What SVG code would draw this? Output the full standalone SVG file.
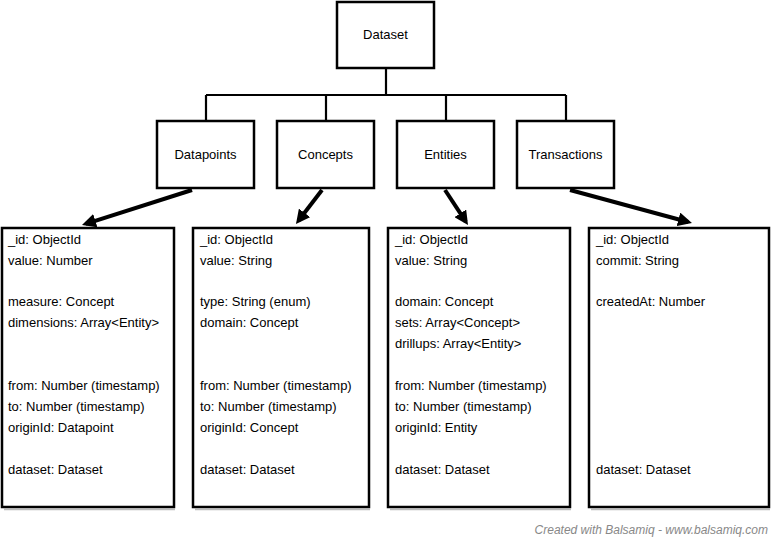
<svg xmlns="http://www.w3.org/2000/svg" width="773" height="540" viewBox="0 0 773 540">
<style>
.box{fill:#fff;stroke:#000;stroke-width:2.5;}
.shadow{fill:none;stroke:#bbb;stroke-width:1.5;}
.lbl{font-family:"Liberation Sans",Arial,sans-serif;font-size:13px;fill:#000;}
.ctr{text-anchor:middle;}
.tree{fill:none;stroke:#000;stroke-width:2.2;}
.arrow{fill:none;stroke:#000;stroke-width:4;marker-end:url(#ah);}
.foot{font-family:"Liberation Sans",Arial,sans-serif;font-size:12px;font-style:italic;fill:#888;text-anchor:end;}
</style>
<defs>
<marker id="ah" markerUnits="userSpaceOnUse" markerWidth="14" markerHeight="14" refX="10" refY="7" orient="auto">
<path d="M0,0 L14,7 L0,14 z" fill="#000"/>
</marker>
</defs>
<g id="connectors">
<path class="tree" d="M386,68 V95 M206,95 H566 M206,95 V121 M326,95 V121 M446,95 V121 M566,95 V121"/>
<line class="arrow" x1="192" y1="190" x2="85.8" y2="223.8"/>
<line class="arrow" x1="322" y1="190" x2="298.4" y2="220.8"/>
<line class="arrow" x1="445" y1="190" x2="465.8" y2="221.7"/>
<line class="arrow" x1="570" y1="190" x2="688.1" y2="222"/>
</g>
<g id="dataset">
<rect class="box" x="337" y="2" width="97" height="66"/>
<text class="lbl ctr" x="385.5" y="39">Dataset</text>
</g>
<g id="datapoints">
<rect class="box" x="157" y="121" width="97" height="67"/>
<text class="lbl ctr" x="205.5" y="159">Datapoints</text>
</g>
<g id="concepts">
<rect class="box" x="277" y="121" width="97" height="67"/>
<text class="lbl ctr" x="325.5" y="159">Concepts</text>
</g>
<g id="entities">
<rect class="box" x="397" y="121" width="97" height="67"/>
<text class="lbl ctr" x="445.5" y="159">Entities</text>
</g>
<g id="transactions">
<rect class="box" x="517" y="121" width="97" height="67"/>
<text class="lbl ctr" x="565.5" y="159">Transactions</text>
</g>
<g id="datapoint-schema">
<line class="shadow" x1="4" y1="509.5" x2="175" y2="509.5"/>
<rect class="box" x="2" y="228" width="172" height="279"/>
<text class="lbl" x="8" y="244">_id: ObjectId</text>
<text class="lbl" x="8" y="265">value: Number</text>
<text class="lbl" x="8" y="306">measure: Concept</text>
<text class="lbl" x="8" y="327">dimensions: Array&lt;Entity&gt;</text>
<text class="lbl" x="8" y="390">from: Number (timestamp)</text>
<text class="lbl" x="8" y="411">to: Number (timestamp)</text>
<text class="lbl" x="8" y="432">originId: Datapoint</text>
<text class="lbl" x="8" y="474">dataset: Dataset</text>
</g>
<g id="concept-schema">
<line class="shadow" x1="195" y1="509.5" x2="370" y2="509.5"/>
<rect class="box" x="193" y="228" width="176" height="279"/>
<text class="lbl" x="200" y="244">_id: ObjectId</text>
<text class="lbl" x="200" y="265">value: String</text>
<text class="lbl" x="200" y="306">type: String (enum)</text>
<text class="lbl" x="200" y="327">domain: Concept</text>
<text class="lbl" x="200" y="390">from: Number (timestamp)</text>
<text class="lbl" x="200" y="411">to: Number (timestamp)</text>
<text class="lbl" x="200" y="432">originId: Concept</text>
<text class="lbl" x="200" y="474">dataset: Dataset</text>
</g>
<g id="entity-schema">
<line class="shadow" x1="390" y1="509.5" x2="571" y2="509.5"/>
<rect class="box" x="388" y="228" width="182" height="279"/>
<text class="lbl" x="395" y="244">_id: ObjectId</text>
<text class="lbl" x="395" y="265">value: String</text>
<text class="lbl" x="395" y="306">domain: Concept</text>
<text class="lbl" x="395" y="327">sets: Array&lt;Concept&gt;</text>
<text class="lbl" x="395" y="348">drillups: Array&lt;Entity&gt;</text>
<text class="lbl" x="395" y="390">from: Number (timestamp)</text>
<text class="lbl" x="395" y="411">to: Number (timestamp)</text>
<text class="lbl" x="395" y="432">originId: Entity</text>
<text class="lbl" x="395" y="474">dataset: Dataset</text>
</g>
<g id="transaction-schema">
<line class="shadow" x1="591" y1="509.5" x2="770" y2="509.5"/>
<rect class="box" x="589" y="228" width="180" height="279"/>
<text class="lbl" x="596" y="244">_id: ObjectId</text>
<text class="lbl" x="596" y="265">commit: String</text>
<text class="lbl" x="596" y="306">createdAt: Number</text>
<text class="lbl" x="596" y="474">dataset: Dataset</text>
</g>
<text class="foot" x="768" y="534">Created with Balsamiq - www.balsamiq.com</text>
</svg>
